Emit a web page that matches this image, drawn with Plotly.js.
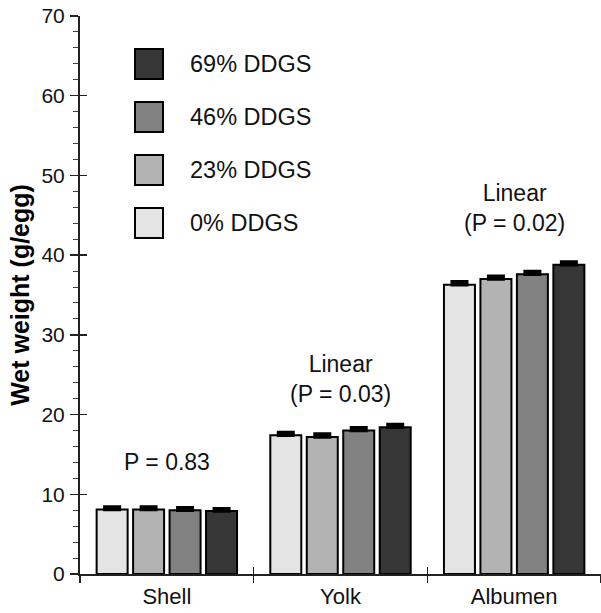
<!DOCTYPE html>
<html>
<head>
<meta charset="utf-8">
<script src="https://cdn.plot.ly/plotly-3.0.1.min.js"></script>
<style>html,body{margin:0;padding:0;background:#fff;}#chart{width:601px;height:613px;}</style>
</head>
<body>
<div id="chart"></div>
<script>
// ---- data ----
var categories = ["Shell", "Yolk", "Albumen"];
var seriesNames = ["0% DDGS", "23% DDGS", "46% DDGS", "69% DDGS"];
var dd0  = [8.1, 17.4, 36.3];
var dd23 = [8.1, 17.2, 37.0];
var dd46 = [8.0, 18.0, 37.6];
var dd69 = [7.9, 18.4, 38.8];
var err0  = [0.3, 0.35, 0.35];
var err23 = [0.3, 0.35, 0.35];
var err46 = [0.3, 0.35, 0.35];
var err69 = [0.3, 0.35, 0.35];
var pLabels = ["P = 0.83", "Linear<br>(P = 0.03)", "Linear<br>(P = 0.02)"];
var pLabelY = [14.0, 24.5, 45.9];
var yTitle = "Wet weight (g/egg)";

// ---- styling ----
var colors = ["#e4e4e4", "#b3b3b3", "#818181", "#363636"];
var FONT = "Liberation Sans, Arial, sans-serif";
var values = [dd0, dd23, dd46, dd69];
var errs = [err0, err23, err46, err69];

var traces = values.map(function (v, i) {
  return {
    type: "bar",
    name: seriesNames[i],
    x: categories,
    y: v,
    marker: {color: colors[i], line: {color: "#000", width: 2}},
    error_y: {type: "data", symmetric: false, array: errs[i], arrayminus: errs[i].map(function () { return 0; }),
              visible: true, color: "#000", thickness: 3.5, width: 9},
    showlegend: false,
    hoverinfo: "x+y+name"
  };
});
// empty trace on overlay axes (inner half of crossing ticks)
traces.push({type: "scatter", x: [], y: [], xaxis: "x2", yaxis: "y2", showlegend: false, hoverinfo: "skip"});

// plot area geometry in pixels (for the custom legend)
var L = 80, T = 16, W = 601, H = 613, B = 39, R = 0;
var pw = W - L - R, ph = H - T - B;
function px2x(px) { return (px - L) / pw; }
function py2y(py) { return (H - B - py) / ph; }

var shapes = [];
var annotations = [];
// legend: top row = highest level
var legendRowsY = [223, 170, 117, 64];
for (var i = 0; i < seriesNames.length; i++) {
  var cy = legendRowsY[i];
  shapes.push({
    type: "rect", xref: "paper", yref: "paper",
    x0: px2x(135), x1: px2x(163), y0: py2y(cy + 15), y1: py2y(cy - 15),
    fillcolor: colors[i], line: {color: "#000", width: 2}
  });
  annotations.push({
    xref: "paper", yref: "paper", x: px2x(188), y: py2y(cy),
    xanchor: "left", yanchor: "middle", showarrow: false,
    text: seriesNames[i], font: {family: FONT, size: 23.5, color: "#111"}
  });
}
for (var j = 0; j < categories.length; j++) {
  annotations.push({
    xref: "x", yref: "y", x: categories[j], y: pLabelY[j],
    xanchor: "center", yanchor: "middle", showarrow: false,
    text: pLabels[j], font: {family: FONT, size: 23, color: "#111"}
  });
}

var layout = {
  width: W, height: H,
  margin: {l: L, r: R, t: T, b: B, pad: 0},
  paper_bgcolor: "#fff", plot_bgcolor: "#fff",
  barmode: "group", bargap: 0.16, bargroupgap: 0.15,
  font: {family: FONT, color: "#111"},
  xaxis: {
    type: "category", categoryorder: "array", categoryarray: categories,
    range: [-0.5, 2.5], tickson: "boundaries",
    ticks: "outside", ticklen: 7, tickwidth: 1.5, tickcolor: "#222",
    showline: true, linecolor: "#222", linewidth: 2,
    showgrid: false, zeroline: false, ticklabelstandoff: 2,
    tickfont: {family: FONT, size: 22, color: "#111"}
  },
  yaxis: {
    range: [0, 70], dtick: 10, tick0: 0,
    ticks: "outside", ticklen: 8, tickwidth: 1.5, tickcolor: "#222",
    minor: {dtick: 2, ticks: "outside", ticklen: 5, tickwidth: 1, tickcolor: "#444", showgrid: false},
    showline: true, linecolor: "#222", linewidth: 2,
    showgrid: false, zeroline: false, ticklabelstandoff: 1,
    tickfont: {family: FONT, size: 21, color: "#111"},
    title: {text: "<b>" + yTitle + "</b>", font: {family: FONT, size: 25, color: "#000"}, standoff: 5}
  },
  xaxis2: {
    overlaying: "x", anchor: "y2", type: "category", categoryarray: categories,
    range: [-0.5, 2.5], tickson: "boundaries", ticks: "inside", ticklen: 7,
    tickwidth: 1.5, tickcolor: "#222", showticklabels: false, showline: false,
    showgrid: false, zeroline: false
  },
  yaxis2: {
    overlaying: "y", anchor: "x2", range: [0, 70], dtick: 10, tick0: 0,
    ticks: "inside", ticklen: 7, tickwidth: 1.5, tickcolor: "#222",
    showticklabels: false, showline: false, showgrid: false, zeroline: false
  },
  shapes: shapes,
  annotations: annotations
};

Plotly.newPlot("chart", traces, layout, {displayModeBar: false, staticPlot: true});
</script>
</body>
</html>
